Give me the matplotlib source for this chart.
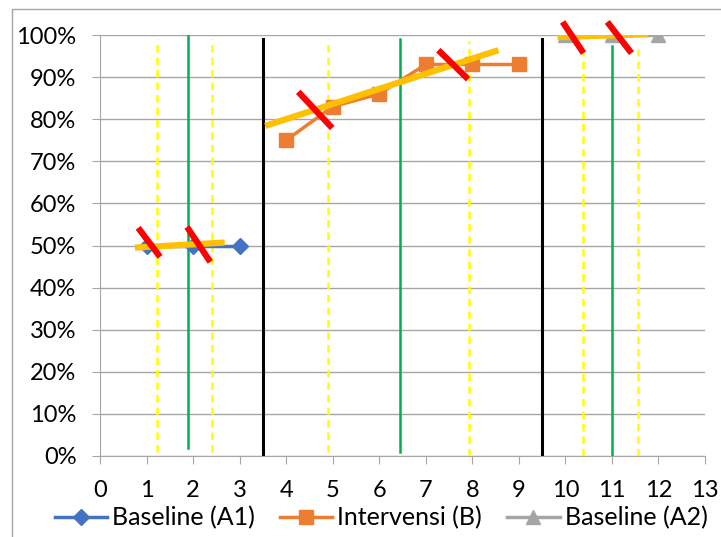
import numpy as np
import matplotlib.pyplot as plt
from matplotlib.patches import Rectangle
from matplotlib.ticker import PercentFormatter

plt.rcParams['font.family'] = ['Lato', 'DejaVu Sans']

# Datos de las fases
x_a1 = [1, 2, 3]
y_a1 = [0.50, 0.50, 0.50]
x_b = [4, 5, 6, 7, 8, 9]
y_b = [0.75, 0.83, 0.86, 0.93, 0.93, 0.93]
x_a2 = [10, 11, 12]
y_a2 = [1.00, 1.00, 1.00]

# Líneas de tendencia (inicio, fin)
trend_a1 = ([0.75, 2.68], [0.495, 0.507])
trend_b = ([3.55, 8.56], [0.784, 0.964])
trend_a2 = ([9.83, 11.78], [0.995, 1.002])

# Marcas rojas (x0, x1, y0, y1)
slashes = [
    (0.82, 1.29, 0.542, 0.473),
    (1.87, 2.37, 0.544, 0.461),
    (4.26, 4.99, 0.865, 0.779),
    (7.27, 7.91, 0.964, 0.895),
    (9.94, 10.39, 1.031, 0.957),
    (10.90, 11.42, 1.031, 0.957),
]

# Líneas verticales (x, y_min, y_max)
black_lines = [(3.5, 0.0, 0.99), (9.5, 0.0, 0.99)]
green_lines = [(1.9, 0.02, 1.0), (6.45, 0.01, 0.99), (11.0, 0.0, 0.975)]
yellow_lines = [(1.23, 0.01, 0.99), (2.41, 0.01, 0.99), (4.9, 0.01, 0.99),
                (7.92, 0.0, 0.985), (10.37, 0.0, 0.957), (11.57, 0.0, 0.967)]

fig = plt.figure(figsize=(7.21, 5.37), dpi=100)
ax = fig.add_axes([100/721, 1 - 456/537, 605/721, 421/537])

# borde del gráfico
fig.patches.append(Rectangle((12/721, -0.1), 1.2, 1 - 9/537 + 0.1,
                             transform=fig.transFigure, fill=False,
                             edgecolor='#A6A6A6', lw=1))

for x, y0, y1 in black_lines:
    ax.plot([x, x], [y0, y1], color='black', lw=2.2, zorder=2)
for x, y0, y1 in green_lines:
    ax.plot([x, x], [y0, y1], color='#00B050', lw=1.8, zorder=2)
for x, y0, y1 in yellow_lines:
    ax.plot([x, x], [y0, y1], color='#FFFF00', lw=1.8, ls=(0, (3, 2)), zorder=2)

ax.plot(x_a1, y_a1, color='#4472C4', lw=2.5, marker='D', ms=8,
        label='Baseline (A1)', zorder=3)
ax.plot(x_b, y_b, color='#ED7D31', lw=2.5, marker='s', ms=10,
        label='Intervensi (B)', zorder=3)
ax.plot(x_a2, y_a2, color='#A5A5A5', lw=2.5, marker='^', ms=10,
        label='Baseline (A2)', zorder=3)

for tx, ty in [trend_a1, trend_b, trend_a2]:
    ax.plot(tx, ty, color='#FFC000', lw=4.5, solid_capstyle='butt', zorder=4)

for x0, x1, y0, y1 in slashes:
    ax.plot([x0, x1], [y0, y1], color='#FF0000', lw=4.5, solid_capstyle='butt',
            zorder=5, clip_on=False)

ax.set_xlim(0, 13)
ax.set_ylim(0, 1)
ax.set_xticks(range(0, 14))
ax.set_yticks(np.arange(0, 1.01, 0.1))
ax.yaxis.set_major_formatter(PercentFormatter(1.0, decimals=0))
ax.grid(axis='y', color='#A6A6A6', lw=1)
ax.set_axisbelow(True)
for s in ['top', 'right']:
    ax.spines[s].set_visible(False)
for s in ['left', 'bottom']:
    ax.spines[s].set_color('#A6A6A6')
ax.tick_params(axis='both', colors='#A6A6A6', labelcolor='black',
               labelsize=17, length=6)
ax.tick_params(axis='x', pad=11)
ax.tick_params(axis='y', pad=11)

ax.legend(loc='center', bbox_to_anchor=(381/721, 1 - 518/537),
          bbox_transform=fig.transFigure, ncol=3, frameon=False,
          fontsize=18, handlelength=2.1, handletextpad=0.2,
          columnspacing=1.0, borderpad=0)

fig.savefig('out.png', dpi=100)
